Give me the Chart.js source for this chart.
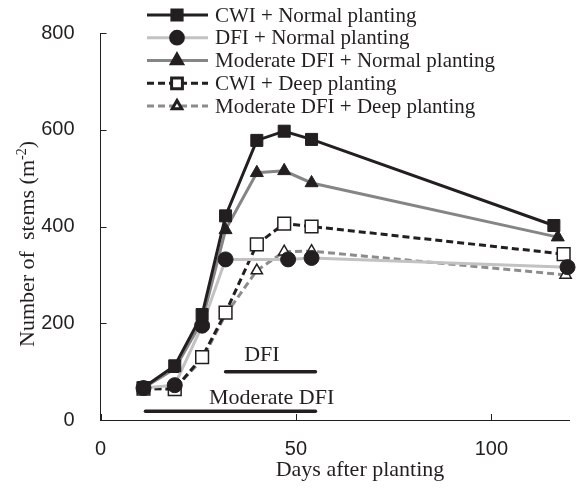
<!DOCTYPE html>
<html>
<head>
<meta charset="utf-8">
<script src="https://cdn.jsdelivr.net/npm/chart.js@4.4.1/dist/chart.umd.min.js"></script>
<style>
  html, body { margin: 0; padding: 0; background: #fff; }
</style>
</head>
<body>
<canvas id="stems-chart" width="580" height="489"></canvas>
<script>
// Series data: days after planting and stem counts per m2
const cwiNormalDays = [11, 19, 26, 32, 40, 47, 54, 116];
const cwiNormalStems = [67, 112, 218, 422, 578, 597, 580, 402];

const dfiNormalDays = [11, 19, 26, 32, 48, 54, 119.5];
const dfiNormalStems = [66, 72, 195, 332, 332, 335, 316];

const modNormalDays = [11, 19, 26, 32, 40, 47, 54, 117];
const modNormalStems = [66, 106, 205, 393, 511, 515, 490, 378];

const cwiDeepDays = [11, 19, 26, 32, 40, 47, 54, 118.5];
const cwiDeepStems = [65, 64, 130, 222, 363, 406, 400, 343];

const modDeepDays = [11, 19, 26, 32, 40, 47, 54, 119];
const modDeepStems = [64, 65, 125, 218, 309, 348, 349, 300];

const seriesNames = [
  'CWI + Normal planting',
  'DFI + Normal planting',
  'Moderate DFI + Normal planting',
  'CWI + Deep planting',
  'Moderate DFI + Deep planting'
];

// Axis ticks
const xTicks = [0, 50, 100];
const yTicks = [0, 200, 400, 600, 800];

// Irrigation periods (start day, end day) and the stem level they are drawn at
const dfiPeriod = [32, 55];
const dfiLevel = 100;
const moderatePeriod = [11.5, 55];
const moderateLevel = 18;

const ink = '#231f20';
const serif = '"Liberation Serif", "Times New Roman", serif';
const sans = '"Liberation Sans", Arial, sans-serif';

function toPoints(days, stems) {
  return days.map((d, i) => ({ x: d, y: stems[i] }));
}

function series(label, days, stems, style) {
  return Object.assign({
    label,
    data: toPoints(days, stems),
    borderWidth: 3,
    pointBorderColor: ink,
    pointBorderWidth: 1,
    pointBackgroundColor: ink,
    tension: 0,
    clip: false
  }, style);
}

const datasets = [
  series(seriesNames[0], cwiNormalDays, cwiNormalStems, {
    borderColor: ink, pointStyle: 'rect', pointRadius: 8.5
  }),
  series(seriesNames[1], dfiNormalDays, dfiNormalStems, {
    borderColor: '#c2c2c2', pointStyle: 'circle', pointRadius: 7.5
  }),
  series(seriesNames[2], modNormalDays, modNormalStems, {
    borderColor: '#858585', pointStyle: 'triangle', pointRadius: 7.5
  }),
  series(seriesNames[3], cwiDeepDays, cwiDeepStems, {
    borderColor: ink, borderDash: [7, 4], pointStyle: 'rect', pointRadius: 9,
    pointBackgroundColor: '#fff', pointBorderWidth: 1.5
  }),
  series(seriesNames[4], modDeepDays, modDeepStems, {
    borderColor: '#8c8c8c', borderDash: [7, 4], pointStyle: 'triangle', pointRadius: 6.5,
    pointBackgroundColor: '#fff', pointBorderWidth: 1.5
  })
];

// Short tick marks pointing into the plot
const innerTicks = {
  id: 'innerTicks',
  afterDatasetsDraw(chart) {
    const { ctx, chartArea, scales: { x, y } } = chart;
    ctx.save();
    ctx.strokeStyle = ink;
    ctx.lineWidth = 1;
    xTicks.forEach(v => {
      const px = Math.round(x.getPixelForValue(v)) + 0.5;
      ctx.beginPath();
      ctx.moveTo(px, chartArea.bottom);
      ctx.lineTo(px, chartArea.bottom - 6);
      ctx.stroke();
    });
    yTicks.forEach(v => {
      const py = Math.round(y.getPixelForValue(v)) + 0.5;
      ctx.beginPath();
      ctx.moveTo(chartArea.left, py);
      ctx.lineTo(chartArea.left + 6, py);
      ctx.stroke();
    });
    ctx.restore();
  }
};

// Bars marking the irrigation periods, with their labels
const periodBars = {
  id: 'periodBars',
  afterDatasetsDraw(chart) {
    const { ctx, scales: { x, y } } = chart;
    const bars = [
      { span: dfiPeriod, level: dfiLevel, text: 'DFI', tx: 41.3, ty: 133 },
      { span: moderatePeriod, level: moderateLevel, text: 'Moderate DFI', tx: 43.8, ty: 44 }
    ];
    ctx.save();
    ctx.strokeStyle = ink;
    ctx.fillStyle = ink;
    ctx.lineWidth = 3.5;
    ctx.lineCap = 'round';
    ctx.font = '22px ' + serif;
    ctx.textAlign = 'center';
    ctx.textBaseline = 'middle';
    bars.forEach(b => {
      const py = y.getPixelForValue(b.level);
      ctx.beginPath();
      ctx.moveTo(x.getPixelForValue(b.span[0]), py);
      ctx.lineTo(x.getPixelForValue(b.span[1]), py);
      ctx.stroke();
      ctx.fillText(b.text, x.getPixelForValue(b.tx), y.getPixelForValue(b.ty));
    });
    ctx.restore();
  }
};

// Legend drawn over the top-left of the plot
const lineLegend = {
  id: 'lineLegend',
  afterDraw(chart) {
    const { ctx } = chart;
    const x0 = 147, x1 = 208, mx = 177, tx = 215;
    const rows = [15, 37.7, 60.5, 83.3, 106];
    ctx.save();
    chart.data.datasets.forEach((ds, i) => {
      const ry = rows[i];
      ctx.strokeStyle = ds.borderColor;
      ctx.lineWidth = 3;
      ctx.setLineDash(ds.borderDash || []);
      ctx.beginPath();
      ctx.moveTo(x0, ry);
      ctx.lineTo(x1, ry);
      ctx.stroke();
      ctx.setLineDash([]);
      ctx.fillStyle = ds.pointBackgroundColor;
      ctx.strokeStyle = ds.pointBorderColor;
      Chart.helpers.drawPoint(ctx, {
        pointStyle: ds.pointStyle,
        radius: ds.pointRadius * 0.85,
        rotation: 0,
        borderWidth: ds.pointBorderWidth
      }, mx, ry);
      ctx.fillStyle = ink;
      ctx.font = '21px ' + serif;
      ctx.textAlign = 'left';
      ctx.textBaseline = 'middle';
      ctx.fillText(ds.label, tx, ry + 1);
    });
    ctx.restore();
  }
};

// Axis titles (the y title carries a superscript)
const axisTitles = {
  id: 'axisTitles',
  afterDraw(chart) {
    const { ctx } = chart;
    ctx.save();
    ctx.fillStyle = ink;
    ctx.textBaseline = 'alphabetic';
    ctx.textAlign = 'center';
    ctx.font = '22px ' + serif;
    ctx.fillText('Days after planting', 360, 476);

    ctx.translate(27, 244);
    ctx.rotate(-Math.PI / 2);
    const main = 'Number of  stems (m';
    const sup = '-2';
    const tail = ')';
    ctx.font = '22px ' + serif;
    const w1 = ctx.measureText(main).width;
    const w3 = ctx.measureText(tail).width;
    ctx.font = '14px ' + serif;
    const w2 = ctx.measureText(sup).width;
    let sx = -(w1 + w2 + w3) / 2;
    ctx.textAlign = 'left';
    ctx.font = '22px ' + serif;
    ctx.fillText(main, sx, 7);
    sx += w1;
    ctx.font = '14px ' + serif;
    ctx.fillText(sup, sx, -1);
    sx += w2;
    ctx.font = '22px ' + serif;
    ctx.fillText(tail, sx, 7);
    ctx.restore();
  }
};

const stemsChart = new Chart(document.getElementById('stems-chart').getContext('2d'), {
  type: 'line',
  data: { datasets },
  options: {
    responsive: false,
    animation: false,
    layout: { padding: { top: 33, right: 5, left: 0, bottom: 0 } },
    plugins: {
      legend: { display: false },
      tooltip: { enabled: false }
    },
    scales: {
      x: {
        type: 'linear',
        min: 0,
        max: 120,
        grid: { display: false },
        border: { display: true, color: ink, width: 1 },
        afterBuildTicks: s => { s.ticks = xTicks.map(v => ({ value: v })); },
        afterFit: s => { s.height = 69; },
        ticks: { color: ink, font: { family: sans, size: 20 }, padding: 9, maxRotation: 0 }
      },
      y: {
        min: 0,
        max: 800,
        grid: { display: false },
        border: { display: true, color: ink, width: 1 },
        afterBuildTicks: s => { s.ticks = yTicks.map(v => ({ value: v })); },
        afterFit: s => { s.width = 100.5; },
        ticks: { color: ink, font: { family: sans, size: 20 }, padding: 18 }
      }
    }
  },
  plugins: [innerTicks, periodBars, lineLegend, axisTitles]
});
</script>
</body>
</html>
